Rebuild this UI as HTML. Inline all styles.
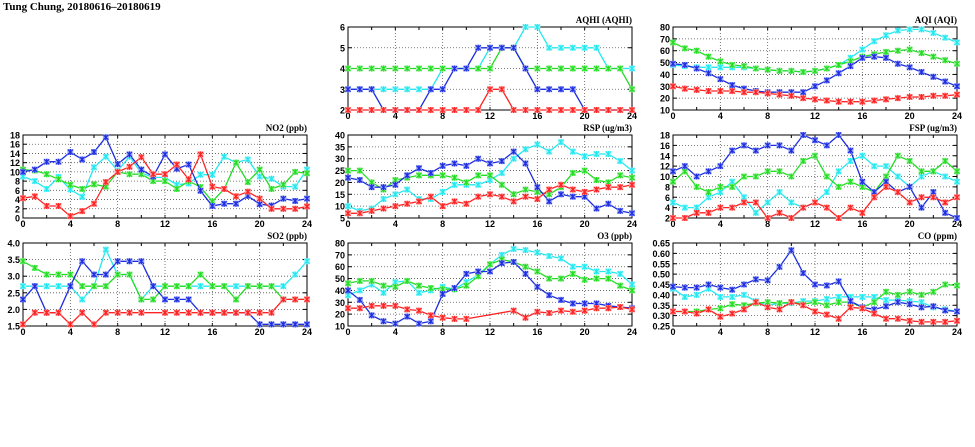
<!DOCTYPE html>
<html><head><meta charset="utf-8"><style>
body{margin:0;background:#fff;width:975px;height:447px;overflow:hidden}
svg{display:block}
text{font-family:"Liberation Sans",sans-serif}
</style></head><body>
<svg id="c" width="975" height="447">
<text x="3" y="10" style="font-family:'Liberation Serif',serif" font-size="11" font-weight="bold">Tung Chung, 20180616–20180619</text>
</svg>
<script>
const hours=[0,1,2,3,4,5,6,7,8,9,10,11,12,13,14,15,16,17,18,19,20,21,22,23,24];
// AQHI
const aqhiCyan=[3,3,3,3,3,3,3,3,4,4,4,4,5,5,5,6,6,5,5,5,5,5,4,4,4];
const aqhiGreen=[4,4,4,4,4,4,4,4,4,4,4,4,4,5,5,4,4,4,4,4,4,4,4,4,3];
const aqhiBlue=[3,3,3,2,2,2,2,3,3,4,4,5,5,5,5,4,3,3,3,3,2,2,2,2,2];
const aqhiRed=[2,2,2,2,2,2,2,2,2,2,2,2,3,3,2,2,2,2,2,2,2,2,2,2,2];
// AQI
const aqiCyan=[48,47,46,46,46,46,46,45,44,43,43,42,43,45,48,54,61,68,73,77,78,78,75,71,67];
const aqiGreen=[67,62,60,55,51,48,47,45,44,43,43,42,43,45,48,51,55,57,59,60,61,58,55,52,49];
const aqiBlue=[49,48,45,41,36,31,28,26,25,25,25,25,30,35,41,47,54,55,54,49,46,42,38,34,30];
const aqiRed=[30,28,27,26,26,26,25,25,24,23,22,20,19,18,17,17,17,18,19,20,21,21,22,22,23];
// NO2
const no2Cyan=[9,8,6.3,8.9,6.2,4.6,11,13.3,10.3,13.3,9.8,8.8,8.8,7.2,7.5,9.4,9.4,13.3,12,12.7,9,8.5,6.8,6.8,10.5];
const no2Green=[10.5,10.3,9.5,8.4,7.2,6.3,7.3,6.8,10,9.5,9.5,8,8,6.3,8,6.7,3.6,6.3,12,7.8,10.5,6.3,7.2,10,9.7];
const no2Blue=[10,10.5,12.2,12.2,14.3,12.7,14.3,17.5,11.7,13.8,10.5,9,13.8,10.7,11.6,5.9,2.6,3.1,3.1,4.8,3,2.7,4.2,3.7,4.2];
const no2Red=[4.3,4.7,2.6,2.6,0.4,1.5,3.1,7.8,10,11.1,13.2,9.5,9.5,11.6,8.4,13.8,6.8,6.3,4.7,5.7,4.2,2,2,2,2.5];
// RSP
const rspCyan=[10,8,9,13,15,17,13,13,16,19,19,19,21,24,30,34,36,33,37,33,31,32,32,29,25];
const rspGreen=[25,25,20,17,21,22,23,23,23,22,20,23,23,19,15,17,16,15,18,24,25,21,20,23,22];
const rspBlue=[22,21,18,18,19,23,26,24,27,28,27,30,28,29,33,28,18,12,15,14,14,9,11,8,7];
const rspRed=[7,7,8,9,10,11,12,14,10,12,11,14,15,14,12,14,13,17,19,17,16,17,18,18,19];
// FSP
const fspCyan=[5,4,4,6,7,9,6,3,5,7,5,4,5,7,11,13,14,12,12,10,8,10,11,10,9];
const fspGreen=[9,11,8,7,8,8,10,10,11,11,10,13,14,10,8,9,8,7,10,14,13,11,11,13,11];
const fspBlue=[11,12,10,11,12,15,16,15,16,16,15,18,17,16,18,15,9,7,9,7,8,4,7,3,2];
const fspRed=[2,2,3,3,4,4,5,5,2,3,2,4,5,4,2,4,3,6,8,7,5,6,6,5,6];
// SO2
const so2Cyan=[2.7,2.7,2.7,2.7,2.7,2.3,2.7,3.8,3.05,3.05,2.3,2.7,2.7,2.7,2.7,2.7,2.7,2.7,2.7,2.7,2.7,2.7,2.7,3.05,3.45];
const so2Green=[3.45,3.25,3.05,3.05,3.05,2.7,2.7,2.7,3.05,3.05,2.3,2.3,2.7,2.7,2.7,3.05,2.7,2.7,2.3,2.7,2.7,2.7,2.3,2.3,2.3];
const so2Blue=[2.3,2.7,1.9,1.9,2.7,3.45,3.05,3.05,3.45,3.45,3.45,2.7,2.3,2.3,2.3,1.9,1.9,1.9,1.9,1.9,1.55,1.55,1.55,1.55,1.55];
const so2Red=[1.55,1.9,1.9,1.9,1.55,1.9,1.55,1.9,1.9,1.9,1.9,null,1.9,1.9,1.9,1.9,1.9,1.9,1.9,1.9,1.9,1.9,2.3,2.3,2.3];
// O3
const o3Cyan=[36,40,45,38,47,48,38,40,43,41,47,53,62,70,75,74,72,69,67,60,60,56,56,54,45];
const o3Green=[46,48,48,44,43,48,44,42,41,41,44,52,62,66,64,60,56,50,50,54,49,50,50,44,40];
const o3Blue=[40,32,19,14,12,18,12,14,37,42,54,56,56,63,64,54,43,36,32,29,29,29,27,26,25];
const o3Red=[25,25,27,27,27,24,23,19,17,16,16,null,null,null,23,17,22,21,23,22,23,25,25,26,24];
// CO
const coCyan=[.43,.39,.40,.43,.39,.39,.40,.37,.35,.36,.36,.37,.37,.38,.39,.39,.39,.39,.375,.375,.37,.365,.34,.33,.32];
const coGreen=[.32,.32,.32,.33,.335,.355,.35,.36,.365,.36,.365,.355,.365,.35,.365,.365,.34,.365,.415,.40,.415,.40,.415,.45,.445];
const coBlue=[.44,.435,.435,.45,.435,.425,.45,.475,.47,.535,.615,.505,.45,.445,.465,.37,.34,.33,.345,.365,.355,.34,.345,.325,.32];
const coRed=[.32,.32,.31,.33,.295,.31,.33,.365,.34,.33,.365,.35,.32,.305,.285,.34,.335,.31,.285,.285,.275,.27,.27,.27,.275];
const xTicks=[0,4,8,12,16,20,24];
const aqhiTicks=[2,3,4,5,6];
const aqiTicks=[10,20,30,40,50,60,70,80];
const no2Ticks=[0,2,4,6,8,10,12,14,16,18];
const rspTicks=[5,10,15,20,25,30,35,40];
const fspTicks=[2,4,6,8,10,12,14,16,18];
const so2Ticks=["1.5","2.0","2.5","3.0","3.5","4.0"];
const o3Ticks=[10,20,30,40,50,60,70,80];
const coTicks=["0.25","0.30","0.35","0.40","0.45","0.50","0.55","0.60","0.65"];

const panels=[
 {id:'aqhi',title:'AQHI (AQHI)',col:1,row:0,ticks:aqhiTicks,s:[aqhiCyan,aqhiGreen,aqhiBlue,aqhiRed]},
 {id:'aqi',title:'AQI (AQI)',col:2,row:0,ticks:aqiTicks,s:[aqiCyan,aqiGreen,aqiBlue,aqiRed]},
 {id:'no2',title:'NO2 (ppb)',col:0,row:1,ticks:no2Ticks,s:[no2Cyan,no2Green,no2Blue,no2Red]},
 {id:'rsp',title:'RSP (ug/m3)',col:1,row:1,ticks:rspTicks,s:[rspCyan,rspGreen,rspBlue,rspRed]},
 {id:'fsp',title:'FSP (ug/m3)',col:2,row:1,ticks:fspTicks,s:[fspCyan,fspGreen,fspBlue,fspRed]},
 {id:'so2',title:'SO2 (ppb)',col:0,row:2,ticks:so2Ticks,s:[so2Cyan,so2Green,so2Blue,so2Red]},
 {id:'o3',title:'O3 (ppb)',col:1,row:2,ticks:o3Ticks,s:[o3Cyan,o3Green,o3Blue,o3Red]},
 {id:'co',title:'CO (ppm)',col:2,row:2,ticks:coTicks,s:[coCyan,coGreen,coBlue,coRed]}
];
const colors=['#22e8f0','#22dd22','#1c2ee0','#ff2222'];
const halos=['#a8f6fa','#a8f0a8','#a0a8f4','#ffa8a8'];
const names=['cyan','green','blue','red'];
const NS='http://www.w3.org/2000/svg';
const svg=document.getElementById('c');
function mk(tag,attrs,parent){const e=document.createElementNS(NS,tag);for(const k in attrs)e.setAttribute(k,attrs[k]);(parent||svg).appendChild(e);return e;}
const colX=[23,348,673],rowY=[27,135,243],W=284,H=83;
panels.forEach(p=>{
 const g=mk('g',{});
 
 
 const x0=colX[p.col],y0=rowY[p.row];
 const tv=p.ticks.map(Number);
 const ymin=tv[0],ymax=tv[tv.length-1];
 const X=h=>x0+h/24*W;
 const Y=v=>y0+H-(v-ymin)/(ymax-ymin)*H;
 tv.forEach((v,i)=>{
  if(i>0&&i<tv.length-1){const l=mk('line',{x1:x0,x2:x0+W,y1:Y(v),y2:Y(v),stroke:'#555','stroke-width':0.8,'stroke-dasharray':'1,2'},g);}
  const t=mk('text',{x:x0-3,y:Y(v)+3.5,'text-anchor':'end','font-size':9,'font-weight':'bold'},g);t.textContent=p.ticks[i];
  
  mk('line',{x1:x0,x2:x0+4,y1:Y(v),y2:Y(v),stroke:'#000'},g);
  mk('line',{x1:x0+W-4,x2:x0+W,y1:Y(v),y2:Y(v),stroke:'#000'},g);
 });
 for(let h=0;h<=24;h+=2){mk('line',{x1:X(h),x2:X(h),y1:y0+H,y2:y0+H-3,stroke:'#000'},g);mk('line',{x1:X(h),x2:X(h),y1:y0,y2:y0+3,stroke:'#000'},g);}
 xTicks.forEach(h=>{
  if(h>0&&h<24){const l=mk('line',{x1:X(h),x2:X(h),y1:y0,y2:y0+H,stroke:'#555','stroke-width':0.8,'stroke-dasharray':'1,2'},g);}
  const t=mk('text',{x:X(h),y:y0+H+9,'text-anchor':'middle','font-size':9,'font-weight':'bold'},g);t.textContent=h;
  
 });
 const fr=mk('rect',{x:x0,y:y0,width:W,height:H,fill:'none',stroke:'#000','stroke-width':1},g);
 
 const tt=mk('text',{x:x0+W,y:y0-4,'text-anchor':'end','font-size':9,'font-weight':'bold',style:"font-family:'Liberation Serif',serif"},g);tt.textContent=p.title;
 
 p.s.forEach((vals,si)=>{
  const sg=mk('g',{},g);
  
  
  let d='',pen=false;
  vals.forEach((v,i)=>{if(v===null||v===undefined)return;d+=(pen?'L':'M')+X(hours[i]).toFixed(1)+','+Y(v).toFixed(1);pen=true;});
  const ln=mk('path',{d:d,fill:'none',stroke:colors[si],'stroke-width':1.3},sg);
  
  vals.forEach((v,i)=>{if(v===null||v===undefined)return;const cx=X(hours[i]),cy=Y(v);
   const m=mk('g',{},sg);
   
   
   mk('rect',{x:cx-3,y:cy-3,width:6,height:6,fill:halos[si]},m);
   mk('path',{d:`M${cx-2.5},${cy-2.5}L${cx+2.5},${cy+2.5}M${cx-2.5},${cy+2.5}L${cx+2.5},${cy-2.5}M${cx},${cy-3}L${cx},${cy+3}`,stroke:colors[si],'stroke-width':1.2},m);
  });
 });
});
</script>
</body></html>
